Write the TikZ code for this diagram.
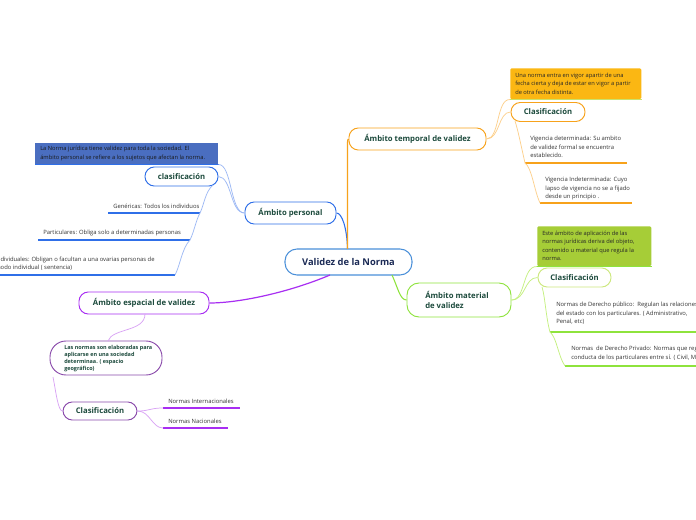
\documentclass[tikz,border=0pt]{standalone}
\usepackage{fontspec}
\setmainfont{Open Sans}
\definecolor{mainblue}{HTML}{4A90D9}
\definecolor{navy}{HTML}{1B2A55}
\definecolor{tgreen}{HTML}{1C4A3C}
\definecolor{pblue}{HTML}{2F6FE8}
\definecolor{pbluel}{HTML}{9DB9F5}
\definecolor{pnote}{HTML}{4A6EC0}
\definecolor{torange}{HTML}{F7A21B}
\definecolor{torangel}{HTML}{FDD08C}
\definecolor{onote}{HTML}{FBB713}
\definecolor{onoteline}{HTML}{CBE26A}
\definecolor{mgreen}{HTML}{8EE33C}
\definecolor{mgreenl}{HTML}{C4F07E}
\definecolor{gnote}{HTML}{A6CD37}
\definecolor{cgreen}{HTML}{CDE87F}
\definecolor{spurple}{HTML}{A82EF2}
\definecolor{spurplel}{HTML}{D9A3F5}
\definecolor{sdark}{HTML}{8A4BAB}
\definecolor{leafgray}{HTML}{333333}
\newcommand\leaffont{\fontsize{4.4}{6.4}\selectfont}
\newcommand\notefont{\fontsize{4.3}{6.4}\selectfont}
\newcommand\topicfont{\bfseries\fontsize{5.8}{7.2}\selectfont}
\tikzset{
  topic/.style={draw, fill=white, rounded corners=7pt, line width=0.7pt, font=\topicfont, text=tgreen, inner sep=0pt, align=center},
  notebox/.style={anchor=north west, inner sep=3pt, align=left, font=\notefont, text=black!85},
  leaf/.style={anchor=south west, inner sep=0pt, align=left, font=\leaffont, text=leafgray},
  conn/.style={line width=0.55pt},
}
\begin{document}
\begin{tikzpicture}[x=0.75pt,y=-0.75pt]
\useasboundingbox (0,0) rectangle (696,520);
\clip (0,0) rectangle (696,520);
\fill[white] (0,0) rectangle (696,520);

% ---------- central ----------
\node[draw=mainblue, fill=white, line width=0.8pt, rounded corners=9pt, minimum width=95.25pt, minimum height=19.5pt, inner sep=0pt, font=\bfseries\fontsize{7}{8}\selectfont, text=navy] (central) at (348.5,262) {Validez de la Norma};
\coordinate (cTop) at (347.5,249);
\coordinate (cBL) at (330,275);
\coordinate (cBR) at (392,275);

% ---------- Ambito personal ----------
\node[topic, draw=pblue, minimum width=68.25pt, minimum height=16.5pt] (personal) at (290.5,213) {Ámbito personal};
\node[fill=pnote, anchor=north west, minimum width=137.25pt, minimum height=15.75pt, inner sep=0pt] (pnoteb) at (35,143) {};
\node[notebox, anchor=west, text=black!90] (pnotet) at (36,153.5) {La Norma jurídica tiene validez para toda la sociedad. El\\ámbito personal se refiere a los sujetos que afectan la norma.};
\draw[pblue, line width=0.8pt] (pnoteb.south west) -- (pnoteb.south east);
\node[topic, draw=pblue, minimum width=54.75pt, minimum height=14.25pt] (clas1) at (181.5,176.5) {clasificación};

\coordinate (genL) at (108,213); \coordinate (genR) at (200,213);
\coordinate (parL) at (38,240); \coordinate (parR) at (190,240);
\coordinate (indL) at (-5,275); \coordinate (indR) at (175,275);
\draw[pblue, line width=0.9pt] (genL) -- (genR);
\draw[pblue, line width=0.9pt] (parL) -- (parR);
\draw[pblue, line width=0.9pt] (indL) -- (indR);
\node[leaf] (gen) at (113,209) {Genéricas: Todos los individuos};
\node[leaf] (par) at (43,236) {Particulares: Obliga solo a determinadas personas};
\node[leaf] (ind) at (-5,271) {Individuales: Obligan o facultan a una ovarias personas de\\modo individual ( sentencia)};

\draw[pblue, conn, line width=0.8pt] (cTop) .. controls (347,228) and (342,213) .. (personal.east);
\draw[pbluel, conn] (personal.west) .. controls (230,213) and (232,164) .. (pnoteb.south east);
\draw[pbluel, conn] (personal.west) .. controls (230,213) and (232,177) .. (clas1.east);
\draw[pbluel, conn] (213,185) .. controls (205,192) and (204,205) .. (genR);
\draw[pbluel, conn] (genR) .. controls (196,220) and (194,232) .. (parR);
\draw[pbluel, conn] (parR) .. controls (182,248) and (180,266) .. (indR);

% ---------- Ambito temporal ----------
\node[topic, draw=torange, minimum width=102.75pt, minimum height=16.5pt] (temporal) at (417.5,139) {Ámbito temporal de validez};
\draw[torange, line width=1pt] (cTop) -- (347.5,143) .. controls (347.5,141) and (348,139) .. (temporal.west);
\node[fill=onote, anchor=north west, minimum width=98.25pt, minimum height=23.25pt, inner sep=0pt, rounded corners=1pt] (onoteb) at (510,68) {};
\node[notebox, anchor=west] (onotet) at (511,83.5) {Una norma entra en vigor apartir de una\\fecha cierta y deja de estar en vigor a partir\\de otra fecha distinta.};
\draw[onoteline, line width=0.9pt] (onoteb.south west) -- (onoteb.south east);
\node[topic, draw=torange, minimum width=55.5pt, minimum height=14.25pt] (clas2) at (548,112) {Clasificación};
\draw[torangel, conn] (temporal.east) .. controls (500,139) and (496,99) .. (onoteb.south west);
\draw[torangel, conn] (temporal.east) .. controls (500,139) and (498,112) .. (clas2.west);

\coordinate (vdL) at (525,163); \coordinate (vdR) at (627,163);
\coordinate (viL) at (540,203); \coordinate (viR) at (632,203);
\draw[torange, line width=0.9pt] (vdL) -- (vdR);
\draw[torange, line width=0.9pt] (viL) -- (viR);
\node[leaf, anchor=north west] (vd) at (530,136) {Vigencia determinada: Su ambito\\de validez formal se encuentra\\establecido.};
\node[leaf, anchor=north west] (vi) at (545,177) {Vigencia Indeterminada: Cuyo\\lapso de vigencia no se a fijado\\desde un principio .};
\draw[torangel, conn] (515,121) .. controls (518,130) and (522,150) .. (vdL);
\draw[torangel, conn] (vdL) .. controls (532,168) and (534,190) .. (viL);

% ---------- Ambito material ----------
\node[topic, draw=mgreen, minimum width=78pt, minimum height=25.5pt, rounded corners=9pt] (material) at (459,300) {};
\node[anchor=west, inner sep=0pt, align=left, font=\topicfont, text=tgreen] (materialt) at (425,300) {Ámbito material\\de validez};
\draw[mgreen, line width=0.8pt] (cBR) .. controls (398,288) and (400,300) .. (material.west);
\node[fill=gnote, anchor=north west, minimum width=85.5pt, minimum height=30pt, inner sep=0pt, rounded corners=1pt] (gnoteb) at (537,226) {};
\node[notebox, anchor=west] (gnotet) at (538,246) {Este ámbito de aplicación de las\\normas jurídicas deriva del objeto,\\contenido u material que regula la\\norma.};
\draw[mgreen, line width=0.9pt] (gnoteb.south west) -- (gnoteb.south east);
\node[topic, draw=cgreen, minimum width=54.75pt, minimum height=14.25pt] (clas3) at (574.5,277.5) {Clasificación};
\draw[mgreenl, conn] (material.east) .. controls (526,300) and (522,266) .. (gnoteb.south west);
\draw[mgreenl, conn] (material.east) .. controls (526,300) and (524,277.5) .. (clas3.west);

\coordinate (dpL) at (550,332); \coordinate (dpR) at (700,332);
\coordinate (drL) at (565,366); \coordinate (drR) at (700,366);
\draw[mgreen, line width=0.9pt] (dpL) -- (dpR);
\draw[mgreen, line width=0.9pt] (drL) -- (drR);
\node[leaf, anchor=north west] (dp) at (556,302) {Normas de Derecho público:\ \ Regulan las relaciones\\del estado con los particulares. ( Administrativo,\\Penal, etc)};
\node[leaf, anchor=north west] (dr) at (571,346) {Normas\ \ de Derecho Privado: Normas que regulan la\\conducta de los particulares entre sí. ( Civil, Mercantil)};
\draw[mgreenl, conn] (542,287) .. controls (545,296) and (546,318) .. (dpL);
\draw[mgreenl, conn] (dpL) .. controls (557,338) and (558,356) .. (drL);

% ---------- Ambito espacial ----------
\node[topic, draw=spurple, minimum width=97.5pt, minimum height=16.5pt] (espacial) at (144,303) {Ámbito espacial de validez};
\draw[spurple, line width=0.9pt] (cBL) .. controls (290,292) and (240,303) .. (espacial.east);
\node[draw=sdark, fill=white, line width=0.7pt, rounded corners=12pt, minimum width=84pt, minimum height=25.5pt, inner sep=0pt] (snote) at (106,358) {};
\node[anchor=west, inner sep=0pt, align=left, font=\bfseries\fontsize{4.1}{5.3}\selectfont, text=tgreen] (snotet) at (64,358.5) {Las normas son elaboradas para\\aplicarse en una sociedad\\determinaa. ( espacio\\geográfico)};
\draw[spurplel, conn] (145,314) .. controls (145,332) and (112,328) .. (108,341);
\node[topic, draw=sdark, minimum width=55.5pt, minimum height=13.5pt] (clas4) at (100,411) {Clasificación};
\draw[spurplel, conn] (53,377) .. controls (56,392) and (58,411) .. (clas4.west);

\coordinate (niL) at (163,408); \coordinate (niR) at (240,408);
\coordinate (nnL) at (163,428); \coordinate (nnR) at (228,428);
\draw[spurple, line width=0.9pt] (niL) -- (niR);
\draw[spurple, line width=0.9pt] (nnL) -- (nnR);
\node[leaf] (ni) at (168,404) {Normas Internacionales};
\node[leaf] (nn) at (168,424) {Normas Nacionales};
\draw[spurplel, conn] (clas4.east) .. controls (150,411) and (150,408) .. (niL);
\draw[spurplel, conn] (clas4.east) .. controls (150,411) and (152,428) .. (nnL);
\end{tikzpicture}
\end{document}
